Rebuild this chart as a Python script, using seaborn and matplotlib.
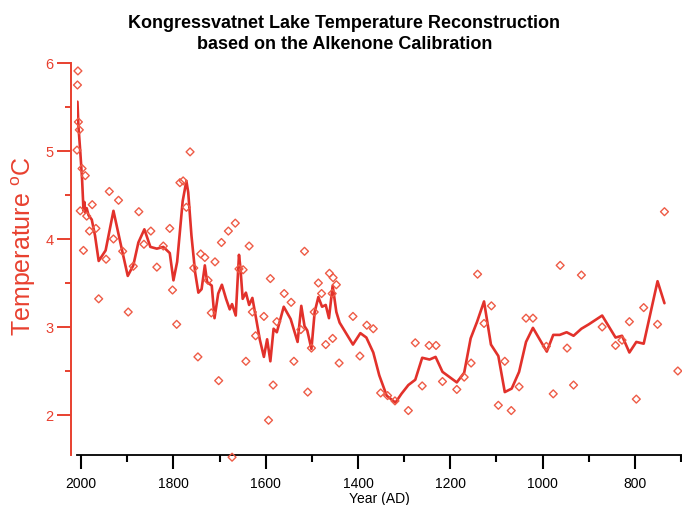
import matplotlib
matplotlib.use("Agg")
import matplotlib.pyplot as plt
import seaborn as sns
from matplotlib.ticker import MultipleLocator

# alkenone samples (open diamonds)
sample_year = [2009, 2008, 2007, 2006, 2004, 2002, 1998, 1995, 1991, 1988,
               1982, 1976, 1968, 1962, 1946, 1939, 1930, 1919, 1910, 1898,
               1887, 1875, 1864, 1849, 1836, 1822, 1808, 1802, 1793, 1786,
               1779, 1772, 1764, 1756, 1747, 1741, 1732, 1725, 1718, 1710,
               1702, 1696, 1681, 1673, 1666, 1658, 1649, 1643, 1636, 1629,
               1622, 1604, 1594, 1590, 1584, 1576, 1560, 1545, 1539, 1524,
               1516, 1509, 1501, 1495, 1486, 1479, 1470, 1462, 1456, 1455,
               1454, 1447, 1441, 1411, 1396, 1381, 1367, 1351, 1336, 1320,
               1291, 1276, 1261, 1246, 1231, 1217, 1186, 1170, 1155, 1141,
               1127, 1111, 1096, 1082, 1068, 1051, 1036, 1021, 992, 977,
               962, 947, 933, 916, 871, 842, 828, 812, 797, 781,
               751, 736, 707]
sample_temp = [5.01, 5.75, 5.91, 5.33, 5.24, 4.32, 4.80, 3.87, 4.72, 4.26,
               4.09, 4.39, 4.12, 3.32, 3.77, 4.54, 4.00, 4.44, 3.86, 3.17,
               3.69, 4.31, 3.94, 4.09, 3.68, 3.92, 4.12, 3.42, 3.03, 4.64,
               4.66, 4.36, 4.99, 3.67, 2.66, 3.83, 3.79, 3.53, 3.16, 3.74,
               2.39, 3.96, 4.09, 1.52, 4.18, 3.66, 3.65, 2.61, 3.92, 3.17,
               2.90, 3.12, 1.94, 3.55, 2.34, 3.06, 3.38, 3.28, 2.61, 2.97,
               3.86, 2.26, 2.76, 3.17, 3.50, 3.38, 2.80, 3.61, 3.38, 2.87,
               3.56, 3.48, 2.59, 3.12, 2.67, 3.02, 2.98, 2.25, 2.22, 2.16,
               2.05, 2.82, 2.33, 2.79, 2.79, 2.38, 2.29, 2.43, 2.59, 3.60,
               3.04, 3.24, 2.11, 2.61, 2.05, 2.32, 3.10, 3.10, 2.78, 2.24,
               3.70, 2.76, 2.34, 3.59, 3.00, 2.79, 2.85, 3.06, 2.18, 3.22,
               3.03, 4.31, 2.50]

# smoothed reconstruction (line)
smooth_year = [2008, 2006, 2002, 1998, 1996, 1995, 1993, 1991, 1988, 1984,
               1977, 1970, 1962, 1947, 1930, 1913, 1899, 1887, 1876, 1863,
               1850, 1836, 1822, 1808, 1800, 1792, 1780, 1772, 1768, 1761,
               1753, 1746, 1739, 1732, 1727, 1717, 1711, 1703, 1695, 1686,
               1678, 1673, 1665, 1658, 1655, 1650, 1643, 1636, 1629, 1620,
               1613, 1604, 1597, 1590, 1583, 1576, 1561, 1546, 1531, 1523,
               1516, 1510, 1501, 1494, 1486, 1478, 1470, 1463, 1455, 1447,
               1440, 1411, 1395, 1382, 1367, 1354, 1338, 1319, 1306, 1291,
               1276, 1261, 1245, 1232, 1217, 1186, 1170, 1156, 1142, 1127,
               1112, 1096, 1082, 1067, 1051, 1036, 1021, 991, 977, 963,
               948, 933, 916, 900, 871, 842, 828, 812, 797, 781,
               751, 736]
smooth_temp = [5.56, 5.29, 5.00, 4.68, 4.45, 4.32, 4.42, 4.30, 4.35, 4.27,
               4.22, 4.04, 3.75, 3.87, 4.32, 3.91, 3.58, 3.70, 3.96, 4.11,
               3.91, 3.89, 3.91, 3.84, 3.53, 3.74, 4.43, 4.66, 4.53, 4.04,
               3.62, 3.39, 3.43, 3.70, 3.51, 3.47, 3.10, 3.38, 3.48, 3.32,
               3.20, 3.26, 3.13, 3.82, 3.68, 3.32, 3.39, 3.25, 3.33, 3.07,
               2.86, 2.66, 2.86, 2.61, 2.98, 2.94, 3.23, 3.09, 2.83, 3.24,
               3.01, 2.96, 2.75, 3.17, 3.34, 3.23, 3.25, 3.10, 3.47, 3.17,
               3.05, 2.80, 2.93, 2.88, 2.71, 2.45, 2.22, 2.14, 2.24, 2.34,
               2.40, 2.65, 2.63, 2.66, 2.49, 2.37, 2.48, 2.87, 3.06, 3.29,
               2.80, 2.67, 2.26, 2.30, 2.49, 2.83, 2.99, 2.72, 2.91, 2.91,
               2.94, 2.90, 2.98, 3.03, 3.13, 2.88, 2.90, 2.71, 2.83, 2.81,
               3.52, 3.27]

line_red = "#e2312b"
marker_red = "#ee5b46"
axis_red = "#e8402f"

sns.set_style("ticks")
plt.rcParams["font.family"] = ["Liberation Sans", "DejaVu Sans"]
plt.rcParams["text.color"] = "black"
plt.rcParams["axes.labelcolor"] = "black"

fig = plt.figure(figsize=(6.82, 5.06), dpi=100)
ax = fig.add_axes([77 / 682, 50 / 506, 605 / 682, 392 / 506])

sns.lineplot(x=smooth_year, y=smooth_temp, sort=False, estimator=None,
             color=line_red, linewidth=1.9, ax=ax)
sns.scatterplot(x=sample_year, y=sample_temp, marker="D", s=16,
                facecolors="none", edgecolors=marker_red, linewidths=1.0,
                clip_on=False, zorder=3, ax=ax)

ax.set_xlim(2009, 698)
ax.set_ylim(1.545, 6)

ax.xaxis.set_major_locator(MultipleLocator(200))
ax.xaxis.set_minor_locator(MultipleLocator(100))
ax.yaxis.set_major_locator(MultipleLocator(1))
ax.yaxis.set_minor_locator(MultipleLocator(0.5))

for side in ["top", "right"]:
    ax.spines[side].set_visible(False)
ax.spines["left"].set_position(("outward", 4))
ax.spines["left"].set_color(axis_red)
ax.spines["left"].set_linewidth(1.4)
ax.spines["bottom"].set_color("black")
ax.spines["bottom"].set_linewidth(1.3)

ax.tick_params(axis="x", which="major", length=10, width=1.5, colors="black",
               labelsize=10, pad=5)
ax.tick_params(axis="x", which="minor", length=5, width=1.5, colors="black")
ax.tick_params(axis="y", which="major", length=10, width=1.4, colors=axis_red,
               labelsize=10.5, pad=3)
ax.tick_params(axis="y", which="minor", length=4.5, width=1.4, colors=axis_red)

ax.set_xlabel("Year (AD)", fontsize=10, labelpad=1, color="black")
ax.set_ylabel(r"Temperature $\mathregular{^o}$C", fontsize=18, color=axis_red)
ax.yaxis.set_label_coords(-0.064, 0.536)

fig.text(0.505, 1 - 34 / 506,
         "Kongressvatnet Lake Temperature Reconstruction\nbased on the Alkenone Calibration",
         ha="center", va="center", fontsize=13, fontweight="bold",
         linespacing=1.35, color="black")

fig.savefig("out.png", dpi=100)
